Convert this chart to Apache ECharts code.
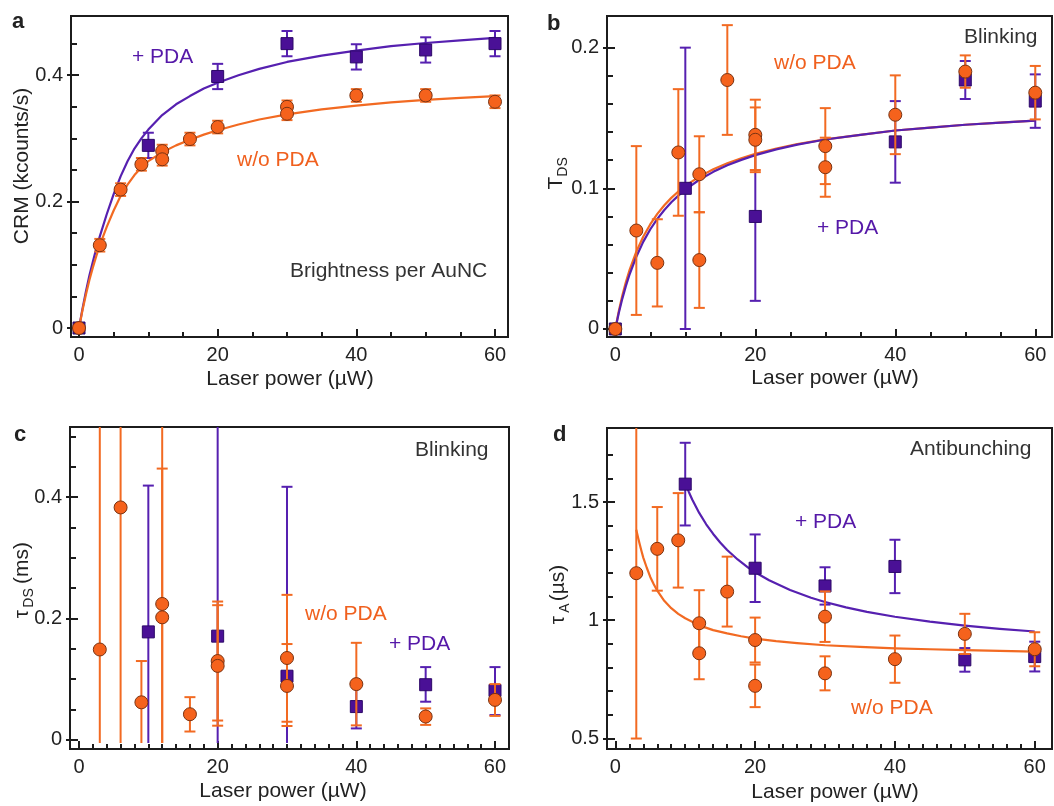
<!DOCTYPE html>
<html><head><meta charset="utf-8">
<script src="https://cdn.jsdelivr.net/npm/echarts@6.0.0/dist/echarts.min.js"></script>
<style>html,body{margin:0;padding:0;background:#fff}#chart{width:1054px;height:806px}</style>
</head><body><div id="chart"></div>
<script>
// ---------------- DATA ----------------
// Panel a: CRM (kcounts/s)
const aPdaX = [0, 10, 20, 30, 40, 50, 60];
const aPdaY = [0, 0.289, 0.398, 0.450, 0.429, 0.440, 0.450];
const aPdaErr = [0, 0.02, 0.02, 0.02, 0.02, 0.02, 0.02];
const aWoX = [0, 3, 6, 9, 12, 12, 16, 20, 30, 30, 40, 50, 60];
const aWoY = [0, 0.131, 0.219, 0.259, 0.280, 0.267, 0.299, 0.318, 0.350, 0.339, 0.368, 0.368, 0.358];
const aWoErr = [0, 0.01, 0.01, 0.01, 0.01, 0.01, 0.01, 0.01, 0.01, 0.01, 0.01, 0.01, 0.01];
const aFitX = [0, 0.5, 1, 1.5, 2, 2.5, 3, 4, 5, 6, 7, 8, 9, 10, 12, 14, 16, 18, 20, 23, 26, 30, 35, 40, 45, 50, 55, 60];
const aFitPda = [0, 0.030, 0.058, 0.083, 0.105, 0.126, 0.145, 0.180, 0.212, 0.240, 0.264, 0.284, 0.300, 0.314, 0.337, 0.354, 0.367, 0.379, 0.388, 0.400, 0.410, 0.421, 0.431, 0.439, 0.446, 0.451, 0.455, 0.459];
const aFitWo = [0, 0.028, 0.053, 0.076, 0.096, 0.114, 0.131, 0.160, 0.186, 0.209, 0.227, 0.242, 0.254, 0.264, 0.278, 0.289, 0.298, 0.306, 0.313, 0.322, 0.330, 0.338, 0.346, 0.352, 0.357, 0.361, 0.364, 0.367];

// Panel b: T_DS
const bPdaX = [0, 10, 20, 40, 50, 60];
const bPdaY = [0, 0.100, 0.080, 0.133, 0.177, 0.162];
const bPdaErr = [0, 0.100, 0.060, 0.029, 0.0135, 0.019];
const bWoX = [0, 3, 6, 9, 12, 12, 16, 20, 20, 30, 30, 40, 50, 60];
const bWoY = [0, 0.070, 0.047, 0.1255, 0.110, 0.049, 0.177, 0.138, 0.1345, 0.130, 0.115, 0.1523, 0.183, 0.168];
const bWoErr = [0, 0.060, 0.031, 0.045, 0.027, 0.034, 0.039, 0.025, 0.023, 0.027, 0.021, 0.028, 0.0115, 0.019];
const bFitX = [0, 0.5, 1, 1.5, 2, 3, 4, 5, 6, 7, 8, 9, 10, 12, 14, 16, 18, 20, 23, 26, 30, 35, 40, 45, 50, 55, 60];
const bFitPda = [0, 0.0116, 0.0216, 0.0305, 0.0383, 0.0514, 0.0621, 0.0709, 0.0783, 0.0846, 0.0901, 0.0948, 0.0990, 0.1061, 0.1117, 0.1164, 0.1202, 0.1236, 0.1277, 0.1311, 0.1347, 0.1380, 0.1411, 0.1431, 0.1452, 0.1467, 0.1481];
const bFitWo = [0, 0.0128, 0.0238, 0.0332, 0.0414, 0.0550, 0.0658, 0.0745, 0.0818, 0.0880, 0.0932, 0.0977, 0.1017, 0.1083, 0.1135, 0.1178, 0.1214, 0.1245, 0.1283, 0.1314, 0.1348, 0.1380, 0.1411, 0.1431, 0.1452, 0.1467, 0.1481];

// Panel c: tau_DS (ms) -- asymmetric / clipped error bars
const cPdaX = [10, 20, 30, 40, 50, 60];
const cPdaY = [0.178, 0.171, 0.105, 0.055, 0.091, 0.0815];
const cPdaLo = [-0.005, -0.005, -0.005, 0.019, 0.063, 0.041];
const cPdaHi = [0.419, 0.60, 0.417, 0.091, 0.120, 0.120];
const cWoX = [3, 6, 9, 12, 12, 16, 20, 20, 30, 30, 40, 50, 60];
const cWoY = [0.149, 0.383, 0.062, 0.224, 0.202, 0.0424, 0.130, 0.122, 0.135, 0.089, 0.092, 0.0386, 0.066];
const cWoLo = [-0.005, -0.005, -0.005, -0.005, -0.005, 0.0139, 0.032, 0.0235, 0.030, 0.023, 0.024, 0.0248, 0.0396];
const cWoHi = [0.60, 0.60, 0.130, 0.447, 0.60, 0.0705, 0.228, 0.222, 0.239, 0.158, 0.160, 0.052, 0.092];

// Panel d: tau_A (us)
const dPdaX = [10, 20, 30, 40, 50, 60];
const dPdaY = [1.576, 1.220, 1.145, 1.2275, 0.832, 0.846];
const dPdaErr = [0.175, 0.143, 0.079, 0.113, 0.05, 0.063];
const dWoX = [3, 6, 9, 12, 12, 16, 20, 20, 30, 30, 40, 50, 60];
const dWoY = [1.199, 1.302, 1.338, 0.987, 0.860, 1.121, 0.916, 0.722, 1.015, 0.775, 0.835, 0.942, 0.877];
const dWoErr = [0.70, 0.177, 0.20, 0.14, 0.11, 0.148, 0.095, 0.09, 0.107, 0.072, 0.10, 0.085, 0.072];
const dFitPdaX = [10, 10.5, 11, 11.5, 12, 13, 14, 15, 16, 17.5, 19, 20, 22, 25, 28, 30, 33, 36, 40, 45, 50, 55, 60];
const dFitPda = [1.580, 1.544, 1.511, 1.482, 1.454, 1.406, 1.365, 1.329, 1.297, 1.257, 1.223, 1.203, 1.169, 1.128, 1.095, 1.077, 1.054, 1.035, 1.0145, 0.994, 0.977, 0.963, 0.952];
const dFitWoX = [3, 3.25, 3.5, 3.75, 4, 4.5, 5, 5.5, 6, 7, 8, 9, 10, 12, 14, 16, 18, 20, 23, 26, 30, 35, 40, 45, 50, 55, 60];
const dFitWo = [1.383, 1.350, 1.320, 1.292, 1.265, 1.222, 1.183, 1.152, 1.125, 1.082, 1.051, 1.027, 1.008, 0.978, 0.958, 0.944, 0.932, 0.922, 0.911, 0.903, 0.894, 0.887, 0.881, 0.877, 0.873, 0.870, 0.867];

// Axis ticks
const xTicksMajor = [0, 20, 40, 60];
const xMinorAB = [5, 10, 15, 25, 30, 35, 45, 50, 55];
const xMinorCD = [2, 4, 6, 8, 10, 12, 14, 16, 18, 22, 24, 26, 28, 30, 32, 34, 36, 38, 42, 44, 46, 48, 50, 52, 54, 56, 58];
const yMajorA = [0, 0.2, 0.4];
const yMinorA = [0.05, 0.1, 0.15, 0.25, 0.3, 0.35, 0.45];
const yMajorB = [0, 0.1, 0.2];
const yMinorB = [0.02, 0.04, 0.06, 0.08, 0.12, 0.14, 0.16, 0.18];
const yMajorC = [0, 0.2, 0.4];
const yMinorC = [0.05, 0.1, 0.15, 0.25, 0.3, 0.35, 0.45, 0.5];
const yMajorD = [0.5, 1, 1.5];
const yMinorD = [0.6, 0.7, 0.8, 0.9, 1.1, 1.2, 1.3, 1.4, 1.6, 1.7];

// ---------------- STYLE / LAYOUT ----------------
const FONT = '"Liberation Sans", Arial, Helvetica, sans-serif';
const INK = '#1c1c1c';
const SQ_FILL = '#4a1096', SQ_EDGE = '#2c0868', PUR_LINE = '#5620b0', PUR_TXT = '#5518a8';
const CI_FILL = '#f5621c', CI_EDGE = '#7a3312', OR_LINE = '#f26a22', OR_TXT = '#f0601e';

const panels = [
  {left: 71, top: 16, width: 437, height: 321, xmin: -1.154, xmax: 61.875, ymin: -0.0142, ymax: 0.4937,
   xMinor: xMinorAB, yMajor: yMajorA, yMinor: yMinorA},
  {left: 607, top: 16, width: 445, height: 321, xmin: -1.19, xmax: 62.39, ymin: -0.0057, ymax: 0.2225,
   xMinor: xMinorAB, yMajor: yMajorB, yMinor: yMinorB},
  {left: 70, top: 427, width: 439, height: 322, xmin: -1.298, xmax: 62.02, ymin: -0.0149, ymax: 0.5155,
   xMinor: xMinorCD, yMajor: yMajorC, yMinor: yMinorC},
  {left: 607, top: 428, width: 445, height: 321, xmin: -1.19, xmax: 62.47, ymin: 0.4547, ymax: 1.8136,
   xMinor: xMinorCD, yMajor: yMajorD, yMinor: yMinorD}
];

const grids = [], xAxes = [], yAxes = [], series = [];
panels.forEach((P, i) => {
  grids.push({left: P.left, top: P.top, width: P.width, height: P.height, show: true,
    borderColor: INK, borderWidth: 2, backgroundColor: 'transparent'});
  const tickStyle = {color: INK, width: 2};
  xAxes.push({type: 'value', gridIndex: i, min: P.xmin, max: P.xmax, position: 'bottom',
    axisLine: {show: true, onZero: false, lineStyle: {color: INK, width: 2}},
    axisTick: {show: true, inside: true, length: 8, customValues: xTicksMajor, lineStyle: tickStyle},
    axisLabel: {show: true, customValues: xTicksMajor, margin: 8, fontSize: 20, color: '#222', fontFamily: FONT},
    splitLine: {show: false}});
  xAxes.push({type: 'value', gridIndex: i, min: P.xmin, max: P.xmax, position: 'bottom',
    axisLine: {show: false, onZero: false},
    axisTick: {show: true, inside: true, length: 5, customValues: P.xMinor, lineStyle: tickStyle},
    axisLabel: {show: false}, splitLine: {show: false}});
  yAxes.push({type: 'value', gridIndex: i, min: P.ymin, max: P.ymax, position: 'left',
    axisLine: {show: true, onZero: false, lineStyle: {color: INK, width: 2}},
    axisTick: {show: true, inside: true, length: 8, customValues: P.yMajor, lineStyle: tickStyle},
    axisLabel: {show: true, customValues: P.yMajor, margin: 8, fontSize: 20, color: '#222', fontFamily: FONT},
    splitLine: {show: false}});
  yAxes.push({type: 'value', gridIndex: i, min: P.ymin, max: P.ymax, position: 'left',
    axisLine: {show: false, onZero: false},
    axisTick: {show: true, inside: true, length: 6, customValues: P.yMinor, lineStyle: tickStyle},
    axisLabel: {show: false}, splitLine: {show: false}});
  yAxes.push({type: 'value', gridIndex: i, min: P.ymin, max: P.ymax, position: 'left',
    axisLine: {show: false, onZero: false},
    axisTick: {show: true, inside: false, length: 4, customValues: P.yMajor, lineStyle: tickStyle},
    axisLabel: {show: false}, splitLine: {show: false}});
});

function curve(i, xs, ys, color, z) {
  series.push({type: 'line', xAxisIndex: 2 * i, yAxisIndex: 3 * i, z: z, silent: true,
    data: xs.map((x, k) => [x, ys[k]]), showSymbol: false, symbol: 'none',
    smooth: false, lineStyle: {color: color, width: 2.2, join: 'round'}, clip: true});
}
function errbars(i, xs, lo, hi, color, z) {
  const P = panels[i];
  const capMin = i === 2 ? 0 : P.ymin;
  series.push({type: 'custom', xAxisIndex: 2 * i, yAxisIndex: 3 * i, z: z, silent: true, clip: true,
    data: xs.map((x, k) => [x, lo[k], hi[k]]),
    encode: {x: 0, y: [1, 2]},
    renderItem: (params, api) => {
      const x = api.value(0), l = api.value(1), h = api.value(2);
      if (h - l <= 0) return null;
      const p1 = api.coord([x, l]), p2 = api.coord([x, h]);
      const st = {stroke: color, lineWidth: 2};
      const ch = [{type: 'line', shape: {x1: p1[0], y1: p1[1], x2: p2[0], y2: p2[1]}, style: st}];
      const w = 5.5;
      if (l >= capMin && l <= P.ymax) ch.push({type: 'line', shape: {x1: p1[0] - w, y1: p1[1], x2: p1[0] + w, y2: p1[1]}, style: st});
      if (h >= capMin && h <= P.ymax) ch.push({type: 'line', shape: {x1: p2[0] - w, y1: p2[1], x2: p2[0] + w, y2: p2[1]}, style: st});
      return {type: 'group', children: ch};
    }});
}
function symErr(i, xs, ys, err, color, z) {
  errbars(i, xs, ys.map((y, k) => y - err[k]), ys.map((y, k) => y + err[k]), color, z);
}
function points(i, xs, ys, kind, z) {
  series.push({type: 'scatter', xAxisIndex: 2 * i, yAxisIndex: 3 * i, z: z, silent: true,
    data: xs.map((x, k) => [x, ys[k]]),
    symbol: kind === 'sq' ? 'rect' : 'circle', symbolSize: kind === 'sq' ? 12 : 13,
    itemStyle: kind === 'sq' ? {color: SQ_FILL, borderColor: SQ_EDGE, borderWidth: 1, opacity: 1}
                             : {color: CI_FILL, borderColor: CI_EDGE, borderWidth: 1, opacity: 1}});
}

// Panel a
curve(0, aFitX, aFitPda, PUR_LINE, 2);
symErr(0, aPdaX, aPdaY, aPdaErr, PUR_LINE, 3);
points(0, aPdaX, aPdaY, 'sq', 4);
curve(0, aFitX, aFitWo, OR_LINE, 5);
symErr(0, aWoX, aWoY, aWoErr, OR_LINE, 6);
points(0, aWoX, aWoY, 'ci', 7);
// Panel b
curve(1, bFitX, bFitWo, OR_LINE, 2);
curve(1, bFitX, bFitPda, PUR_LINE, 3);
symErr(1, bPdaX, bPdaY, bPdaErr, PUR_LINE, 4);
points(1, bPdaX, bPdaY, 'sq', 5);
symErr(1, bWoX, bWoY, bWoErr, OR_LINE, 6);
points(1, bWoX, bWoY, 'ci', 7);
// Panel c
errbars(2, cPdaX, cPdaLo, cPdaHi, PUR_LINE, 3);
points(2, cPdaX, cPdaY, 'sq', 4);
errbars(2, cWoX, cWoLo, cWoHi, OR_LINE, 6);
points(2, cWoX, cWoY, 'ci', 7);
// Panel d
curve(3, dFitPdaX, dFitPda, PUR_LINE, 2);
symErr(3, dPdaX, dPdaY, dPdaErr, PUR_LINE, 3);
points(3, dPdaX, dPdaY, 'sq', 4);
curve(3, dFitWoX, dFitWo, OR_LINE, 5);
symErr(3, dWoX, dWoY, dWoErr, OR_LINE, 6);
points(3, dWoX, dWoY, 'ci', 7);

// ---------------- TEXT ----------------
function txt(x, y, s, opt) {
  opt = opt || {};
  return {type: 'text', x: x, y: y, rotation: opt.rot || 0, z: 100, silent: true,
    style: {text: s, fill: opt.color || '#222', font: (opt.bold ? 'bold ' : '') + (opt.size || 21) + 'px ' + FONT,
      textAlign: opt.align || 'left', textVerticalAlign: 'middle', align: opt.align || 'left', verticalAlign: 'middle'}};
}
const R = Math.PI / 2;
const graphics = [
  // panel letters
  txt(12, 22, 'a', {bold: true, size: 22}),
  txt(547, 24, 'b', {bold: true, size: 22}),
  txt(14, 435, 'c', {bold: true, size: 22}),
  txt(553, 435, 'd', {bold: true, size: 22}),
  // x titles
  txt(290, 379, 'Laser power (µW)', {align: 'center'}),
  txt(835, 378, 'Laser power (µW)', {align: 'center'}),
  txt(283, 791, 'Laser power (µW)', {align: 'center'}),
  txt(835, 792, 'Laser power (µW)', {align: 'center'}),
  // y titles
  txt(22, 166, 'CRM (kcounts/s)', {align: 'center', rot: R}),
  txt(556, 183, 'T', {align: 'center', rot: R}),
  txt(563.5, 167, 'DS', {align: 'center', rot: R, size: 14}),
  txt(22, 614, 'τ', {align: 'center', rot: R}),
  txt(29, 598, 'DS', {align: 'center', rot: R, size: 14}),
  txt(22, 563, '(ms)', {align: 'center', rot: R}),
  txt(558, 620, 'τ', {align: 'center', rot: R}),
  txt(565, 608, 'A', {align: 'center', rot: R, size: 14}),
  txt(558, 583, '(µs)', {align: 'center', rot: R}),
  // annotations
  txt(132, 57, '+ PDA', {color: PUR_TXT}),
  txt(237, 160, 'w/o PDA', {color: OR_TXT}),
  txt(290, 271, 'Brightness per AuNC', {color: '#333'}),
  txt(964, 37, 'Blinking', {color: '#333'}),
  txt(774, 63, 'w/o PDA', {color: OR_TXT}),
  txt(817, 228, '+ PDA', {color: PUR_TXT}),
  txt(415, 450, 'Blinking', {color: '#333'}),
  txt(305, 614, 'w/o PDA', {color: OR_TXT}),
  txt(389, 644, '+ PDA', {color: PUR_TXT}),
  txt(910, 449, 'Antibunching', {color: '#333'}),
  txt(795, 522, '+ PDA', {color: PUR_TXT}),
  txt(851, 708, 'w/o PDA', {color: OR_TXT})
];

const chart = echarts.init(document.getElementById('chart'), null, {renderer: 'canvas'});
chart.setOption({
  animation: false,
  backgroundColor: '#ffffff',
  grid: grids, xAxis: xAxes, yAxis: yAxes, series: series,
  graphic: {elements: graphics}
});
</script>
</body></html>
